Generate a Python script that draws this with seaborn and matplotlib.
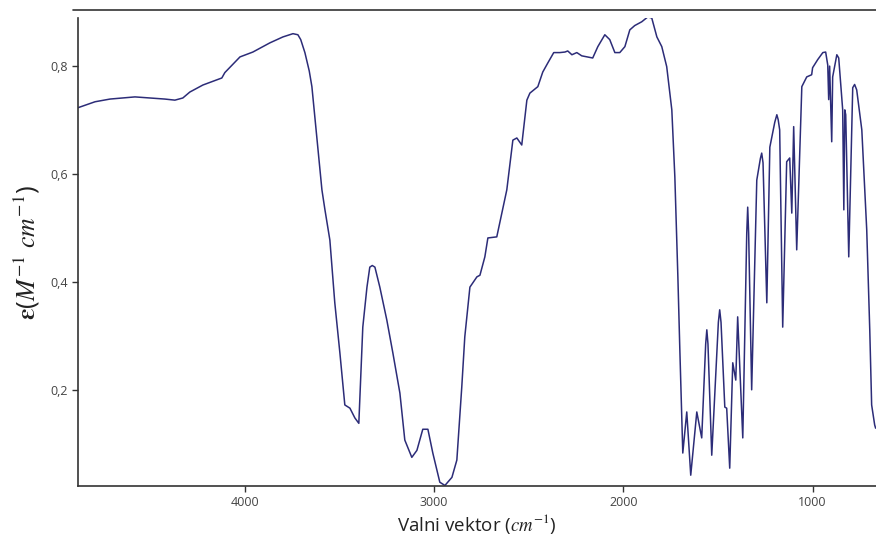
import matplotlib
matplotlib.use("Agg")
import matplotlib.pyplot as plt
import matplotlib.ticker as mticker
from matplotlib.lines import Line2D
import seaborn as sns
import pandas as pd

# IR spectrum
wavenumber = [4882, 4792, 4713, 4581, 4502, 4423, 4370, 4328, 4291, 4222,
              4122, 4106, 4026, 3958, 3868, 3799, 3746, 3720, 3705, 3683,
              3660, 3646, 3620, 3593, 3577, 3551, 3525, 3498, 3472, 3445,
              3419, 3398, 3377, 3355, 3340, 3327, 3313, 3287, 3250, 3218,
              3181, 3155, 3118, 3091, 3060, 3033, 3007, 2970, 2943, 2906,
              2880, 2854, 2838, 2811, 2774, 2758, 2732, 2716, 2669, 2642,
              2616, 2584, 2563, 2537, 2510, 2494, 2452, 2426, 2399, 2368,
              2336, 2309, 2294, 2272, 2246, 2220, 2162, 2135, 2098, 2072,
              2045, 2019, 1992, 1966, 1940, 1903, 1871, 1850, 1823, 1797,
              1771, 1744, 1728, 1712, 1702, 1686, 1665, 1644, 1612, 1586,
              1565, 1559, 1553, 1533, 1498, 1491, 1484, 1464, 1454, 1438,
              1422, 1406, 1396, 1369, 1348, 1343, 1338, 1322, 1295, 1276,
              1269, 1262, 1242, 1226, 1200, 1189, 1182, 1174, 1158, 1137,
              1121, 1110, 1100, 1084, 1057, 1031, 1005, 1000, 973, 946,
              931, 920, 915, 910, 899, 894, 872, 862, 841, 835,
              830, 825, 809, 788, 778, 767, 740, 714, 698, 688,
              672, 667]
epsilon = [0.722, 0.733, 0.738, 0.742, 0.740, 0.738, 0.736, 0.740, 0.751, 0.764,
           0.777, 0.787, 0.816, 0.825, 0.842, 0.853, 0.859, 0.857, 0.848, 0.824,
           0.790, 0.761, 0.668, 0.570, 0.533, 0.477, 0.361, 0.268, 0.172, 0.166,
           0.148, 0.138, 0.316, 0.390, 0.427, 0.430, 0.427, 0.390, 0.329, 0.268,
           0.194, 0.107, 0.075, 0.088, 0.127, 0.127, 0.083, 0.029, 0.023, 0.038,
           0.070, 0.205, 0.298, 0.390, 0.409, 0.412, 0.446, 0.481, 0.483, 0.527,
           0.570, 0.662, 0.666, 0.653, 0.736, 0.749, 0.761, 0.788, 0.805, 0.824,
           0.824, 0.825, 0.827, 0.820, 0.824, 0.818, 0.814, 0.835, 0.857, 0.848,
           0.824, 0.824, 0.835, 0.866, 0.874, 0.881, 0.890, 0.888, 0.853, 0.835,
           0.798, 0.718, 0.594, 0.409, 0.279, 0.083, 0.159, 0.042, 0.159, 0.111,
           0.285, 0.311, 0.285, 0.079, 0.325, 0.348, 0.325, 0.168, 0.166, 0.055,
           0.250, 0.218, 0.335, 0.111, 0.490, 0.538, 0.490, 0.200, 0.588, 0.628,
           0.638, 0.620, 0.361, 0.649, 0.695, 0.709, 0.700, 0.681, 0.316, 0.622,
           0.629, 0.527, 0.687, 0.459, 0.761, 0.779, 0.783, 0.796, 0.811, 0.824,
           0.825, 0.801, 0.737, 0.799, 0.659, 0.779, 0.820, 0.814, 0.718, 0.533,
           0.718, 0.709, 0.446, 0.759, 0.765, 0.755, 0.681, 0.496, 0.311, 0.172,
           0.135, 0.129]

x_ticks = [4000, 3000, 2000, 1000]
y_ticks = [0.2, 0.4, 0.6, 0.8]

spectrum = pd.DataFrame({"wn": wavenumber, "eps": epsilon})

sns.set_theme(style="white")
plt.rcParams["font.family"] = ["Open Sans", "DejaVu Sans"]
plt.rcParams["mathtext.fontset"] = "stix"

fig = plt.figure(figsize=(8.76, 5.45), dpi=100)
ax = fig.add_axes([78 / 876, 59 / 545, 1 - 78 / 876, (486 - 18) / 545])

sns.lineplot(data=spectrum, x="wn", y="eps", sort=False, estimator=None,
             color="#2c2c78", linewidth=1.1, ax=ax)

ax.set_xlim(4882, 665)
ax.set_ylim(0.022, 0.888)
ax.set_xticks(x_ticks)
ax.set_yticks(y_ticks)
ax.yaxis.set_major_formatter(mticker.FuncFormatter(lambda v, p: f"{v:.1f}".replace(".", ",")))

for side in ["top", "right"]:
    ax.spines[side].set_visible(False)
for side in ["left", "bottom"]:
    ax.spines[side].set_color("#333333")
    ax.spines[side].set_linewidth(1.2)

ax.tick_params(axis="both", which="major", direction="out", length=4, width=1,
               color="#333333", labelsize=9, labelcolor="#444444", left=True, bottom=True)
ax.tick_params(axis="x", pad=3)

ax.set_xlabel(r"Valni vektor ($cm^{-1}$)", fontsize=13.5, color="#222222", labelpad=2)
ax.set_ylabel(r"$\boldsymbol{\varepsilon}$($M^{-1}\ cm^{-1}$)", fontsize=18.5,
              color="#222222", labelpad=6)

# line above the plot area, as in the original
fig.add_artist(Line2D([73 / 876, 1.0], [535 / 545, 535 / 545], color="#333333", linewidth=1.2))

fig.savefig("out.png", dpi=100)
